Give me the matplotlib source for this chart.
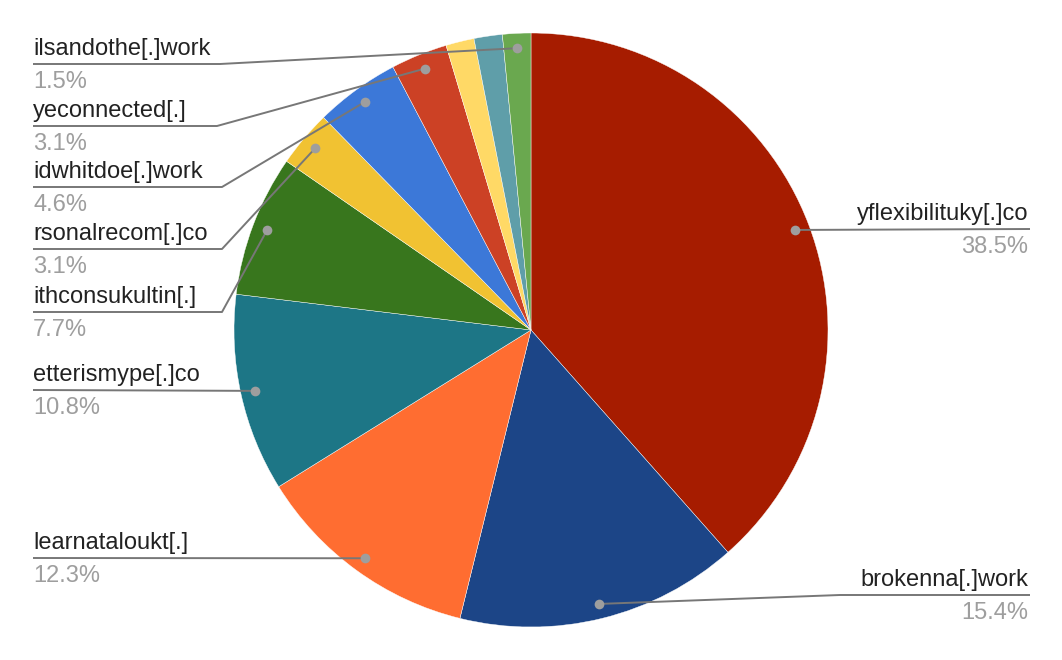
import numpy as np
import matplotlib
matplotlib.use("Agg")
import matplotlib.pyplot as plt

# ---- data ----
categories = ["yflexibilituky[.]co", "brokenna[.]work", "learnataloukt[.]",
              "etterismype[.]co", "ithconsukultin[.]", "rsonalrecom[.]co",
              "idwhitdoe[.]work", "yeconnected[.]", "(unlabeled a)",
              "(unlabeled b)", "ilsandothe[.]work"]
values = [25, 10, 8, 7, 5, 2, 3, 2, 1, 1, 1]
show_label = [True, True, True, True, True, True, True, True, False, False, True]
colors = ["#A61C00", "#1C4587", "#FF6D31", "#1D7686", "#38761D", "#F1C232",
          "#3C78D8", "#CC4125", "#FFD966", "#5F9EA9", "#6AA84F"]

# ---- layout (pixel coords, y measured from top) ----
W, H = 1062, 660
CX, CY, R = 531, 330, 297
# side, line y, elbow x (None = straight)
label_layout = {
    0: ("right", 229, None),
    1: ("right", 595, 840),
    2: ("left", 558, None),
    3: ("left", 390, None),
    4: ("left", 312, 222),
    5: ("left", 249, 222),
    6: ("left", 187, 222),
    7: ("left", 126, 217),
    10: ("left", 64, 220),
}
LEFT_X, RIGHT_X = 33, 1030

plt.rcParams['font.family'] = ['Liberation Sans', 'DejaVu Sans']
fig = plt.figure(figsize=(W / 100, H / 100), dpi=100)
ax = fig.add_axes([0, 0, 1, 1])

def Y(py):
    return H - py

ax.pie(values, colors=colors, startangle=90, counterclock=False,
       center=(CX, Y(CY)), radius=R, frame=True,
       wedgeprops=dict(linewidth=0.3, edgecolor="white"))
ax.set_xlim(0, W)
ax.set_ylim(0, H)
ax.set_aspect("auto")
ax.axis("off")

total = float(sum(values))
cum = 0.0
for i, v in enumerate(values):
    mid = cum + v / 2.0
    cum += v
    if not show_label[i]:
        continue
    ang = np.deg2rad(90 - mid / total * 360)
    dx = CX + 0.95 * R * np.cos(ang)
    dy = Y(CY) + 0.95 * R * np.sin(ang)
    side, ly, ex = label_layout[i]
    x0 = LEFT_X if side == "left" else RIGHT_X
    xs = [x0]
    ys = [Y(ly)]
    if ex is not None:
        xs.append(ex)
        ys.append(Y(ly))
    xs.append(dx)
    ys.append(dy)
    ax.plot(xs, ys, color="#777777", lw=1.4, solid_capstyle="butt", zorder=3)
    ax.plot([dx], [dy], "o", ms=7, color="#9E9E9E", mec="none", zorder=4)
    pct = f"{v / total * 100:.1f}%"
    ha = "left" if side == "left" else "right"
    tx = x0 if side == "left" else x0 - 2
    ax.text(tx, Y(ly) + 9, categories[i], ha=ha, va="baseline",
            fontsize=17, color="#222222", zorder=5)
    ax.text(tx, Y(ly) - 24, pct, ha=ha, va="baseline",
            fontsize=17, color="#9E9E9E", zorder=5)

fig.savefig("out.png", dpi=100)
